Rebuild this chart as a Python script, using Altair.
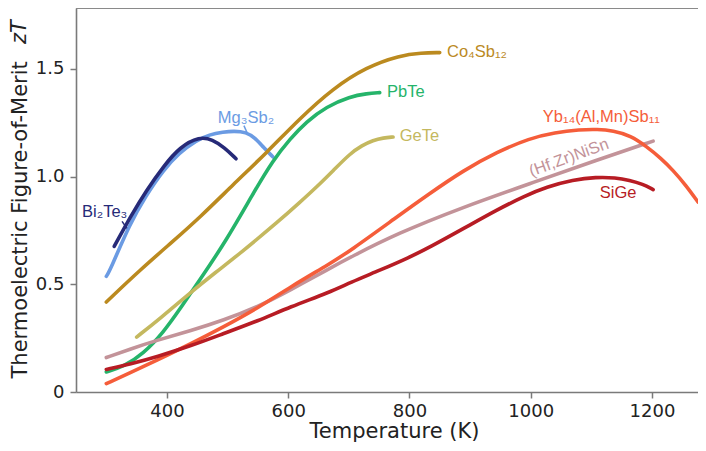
import altair as alt
import pandas as pd

# ---- data ----
materials = ["Mg3Sb2", "Bi2Te3", "Co4Sb12", "PbTe", "GeTe", "(Hf,Zr)NiSn", "Yb14(Al,Mn)Sb11", "SiGe"]
colors = ["#6b9be3", "#262a78", "#bb8a1f", "#25b46a", "#c4b85f", "#c39399", "#f55d3a", "#b71c24"]

mg3sb2_T = [300, 306, 339, 365, 394, 420, 449, 470, 493, 510, 531, 545, 559, 575]
mg3sb2_z = [0.537, 0.564, 0.782, 0.91, 1.03, 1.11, 1.169, 1.195, 1.207, 1.212, 1.207, 1.18, 1.137, 1.091]

bi2te3_T = [313, 340, 366, 395, 421, 454, 475, 495, 514]
bi2te3_z = [0.676, 0.815, 0.936, 1.05, 1.137, 1.186, 1.172, 1.135, 1.083]

co4sb12_T = [300, 355, 410, 454, 510, 564, 619, 674, 729, 784, 820, 850]
co4sb12_z = [0.418, 0.565, 0.70, 0.81, 0.965, 1.11, 1.27, 1.41, 1.509, 1.563, 1.575, 1.576]

pbte_T = [300, 330, 360, 394, 425, 454, 498, 542, 575, 603, 630, 663, 702, 730, 751]
pbte_z = [0.093, 0.12, 0.175, 0.275, 0.40, 0.519, 0.704, 0.921, 1.076, 1.175, 1.255, 1.325, 1.372, 1.386, 1.39]

gete_T = [350, 388, 438, 480, 520, 586, 619, 647, 675, 702, 722, 740, 757, 773]
gete_z = [0.255, 0.34, 0.46, 0.555, 0.642, 0.797, 0.88, 0.952, 1.03, 1.107, 1.145, 1.169, 1.18, 1.184]

hfzr_T = [300, 340, 383, 440, 493, 550, 603, 669, 702, 779, 889, 998, 1108, 1202]
hfzr_z = [0.16, 0.20, 0.24, 0.285, 0.333, 0.395, 0.472, 0.575, 0.625, 0.735, 0.859, 0.967, 1.076, 1.165]

yb_T = [300, 340, 383, 440, 493, 550, 603, 669, 702, 779, 830, 889, 945, 998, 1040, 1081, 1110, 1136, 1165, 1191, 1215, 1235, 1256, 1276]
yb_z = [0.039, 0.09, 0.147, 0.225, 0.302, 0.39, 0.487, 0.596, 0.655, 0.812, 0.915, 1.029, 1.115, 1.178, 1.205, 1.218, 1.22, 1.213, 1.19, 1.14, 1.085, 1.029, 0.96, 0.882]

sige_T = [300, 340, 383, 440, 493, 550, 603, 669, 702, 751, 800, 834, 890, 943, 990, 1026, 1070, 1108, 1140, 1163, 1185, 1202]
sige_z = [0.105, 0.13, 0.163, 0.215, 0.271, 0.33, 0.395, 0.464, 0.508, 0.565, 0.625, 0.673, 0.76, 0.844, 0.91, 0.952, 0.985, 0.998, 0.995, 0.983, 0.965, 0.94]

series_T = [mg3sb2_T, bi2te3_T, co4sb12_T, pbte_T, gete_T, hfzr_T, yb_T, sige_T]
series_z = [mg3sb2_z, bi2te3_z, co4sb12_z, pbte_z, gete_z, hfzr_z, yb_z, sige_z]

# labels
label_text = ["Mg₃Sb₂", "Bi₂Te₃", "Co₄Sb₁₂", "PbTe", "GeTe", "(Hf,Zr)NiSn", "Yb₁₄(Al,Mn)Sb₁₁", "SiGe"]
label_T = [484, 260, 862, 763, 784, 1063, 1020, 1114]
label_z = [1.271, 0.834, 1.577, 1.391, 1.187, 1.088, 1.275, 0.922]
label_angle = [0, 0, 0, 0, 0, 340, 0, 0]

# leader ticks (Bi2Te3, Mg3Sb2)
lead_mat = ["Bi2Te3", "Mg3Sb2"]
lead_T1 = [326, 527]
lead_z1 = [0.792, 1.237]
lead_T2 = [334, 532]
lead_z2 = [0.760, 1.205]

x_ticks = [400, 600, 800, 1000, 1200]
y_ticks = [0, 0.5, 1.0, 1.5]

rows = []
for m, Ts, zs in zip(materials, series_T, series_z):
    for i, (t, z) in enumerate(zip(Ts, zs)):
        rows.append({"material": m, "T": t, "zT": z, "i": i})
df = pd.DataFrame(rows)

lab = pd.DataFrame({"material": materials, "text": label_text, "T": label_T, "zT": label_z,
                    "angle": label_angle})
lead = pd.DataFrame({"material": lead_mat, "T": lead_T1, "zT": lead_z1, "T2": lead_T2, "zT2": lead_z2})

W, H = 622, 384
xscale = alt.Scale(domain=[250, 1276], nice=False, zero=False)
yscale = alt.Scale(domain=[0, 1.783], nice=False, zero=False)
cscale = alt.Scale(domain=materials, range=colors)

lines = alt.Chart(df).mark_line(strokeWidth=3.6, interpolate="basis", strokeCap="round").encode(
    x=alt.X("T:Q", scale=xscale,
            axis=alt.Axis(values=x_ticks, title="Temperature (K)", titleX=318, titleY=45,
                          titleBaseline="alphabetic", titleAlign="center",
                          labelPadding=4, format="d")),
    y=alt.Y("zT:Q", scale=yscale,
            axis=alt.Axis(values=y_ticks, title="Thermoelectric Figure-of-Merit",
                          titleAngle=270, titleAlign="left", titleBaseline="alphabetic",
                          titleX=-50, titleY=370, labelPadding=6,
                          labelExpr="datum.value == 0 ? '0' : format(datum.value, '.1f')")),
    color=alt.Color("material:N", scale=cscale, legend=None),
    order="i:Q",
)

leaders = alt.Chart(lead).mark_rule(strokeWidth=1.5).encode(
    x="T:Q", y="zT:Q", x2="T2:Q", y2="zT2:Q",
    color=alt.Color("material:N", scale=cscale, legend=None),
)

labels_plain = alt.Chart(lab[lab["angle"] == 0]).mark_text(
    font="Liberation Sans", fontSize=16.5, align="left", baseline="middle"
).encode(
    x="T:Q", y="zT:Q", text="text:N",
    color=alt.Color("material:N", scale=cscale, legend=None),
)

labels_rot = alt.Chart(lab[lab["angle"] != 0]).mark_text(
    font="Liberation Sans", fontSize=16.5, align="center", baseline="middle", angle=340
).encode(
    x="T:Q", y="zT:Q", text="text:N",
    color=alt.Color("material:N", scale=cscale, legend=None),
)

zt_title = alt.Chart(pd.DataFrame({"t": ["zT"]})).mark_text(
    font="DejaVu Sans", fontSize=21, fontStyle="italic", angle=270, align="left",
    baseline="alphabetic", color="#222"
).encode(x=alt.value(-50), y=alt.value(36), text="t:N")

top_spine = alt.Chart(pd.DataFrame({"a": [0]})).mark_rule(color="#8a8a8a", strokeWidth=2).encode(
    x=alt.value(0), x2=alt.value(W), y=alt.value(0)
)

chart = alt.layer(lines, leaders, labels_plain, labels_rot, zt_title, top_spine).properties(
    width=W, height=H,
    autosize=alt.AutoSizeParams(type="none"),
    padding={"left": 68, "top": 0, "right": 0, "bottom": 50},
).configure_view(strokeWidth=0).configure_axis(
    grid=False, domainColor="#7a7a7a", domainWidth=1.6, tickColor="#7a7a7a", tickWidth=1.5,
    tickSize=6, labelFont="DejaVu Sans", labelFontSize=18, labelColor="#222",
    titleFont="DejaVu Sans", titleFontSize=21, titleColor="#222", titleFontWeight="normal",
)

chart.save("out.html", embed_options={"renderer": "svg", "actions": False})
